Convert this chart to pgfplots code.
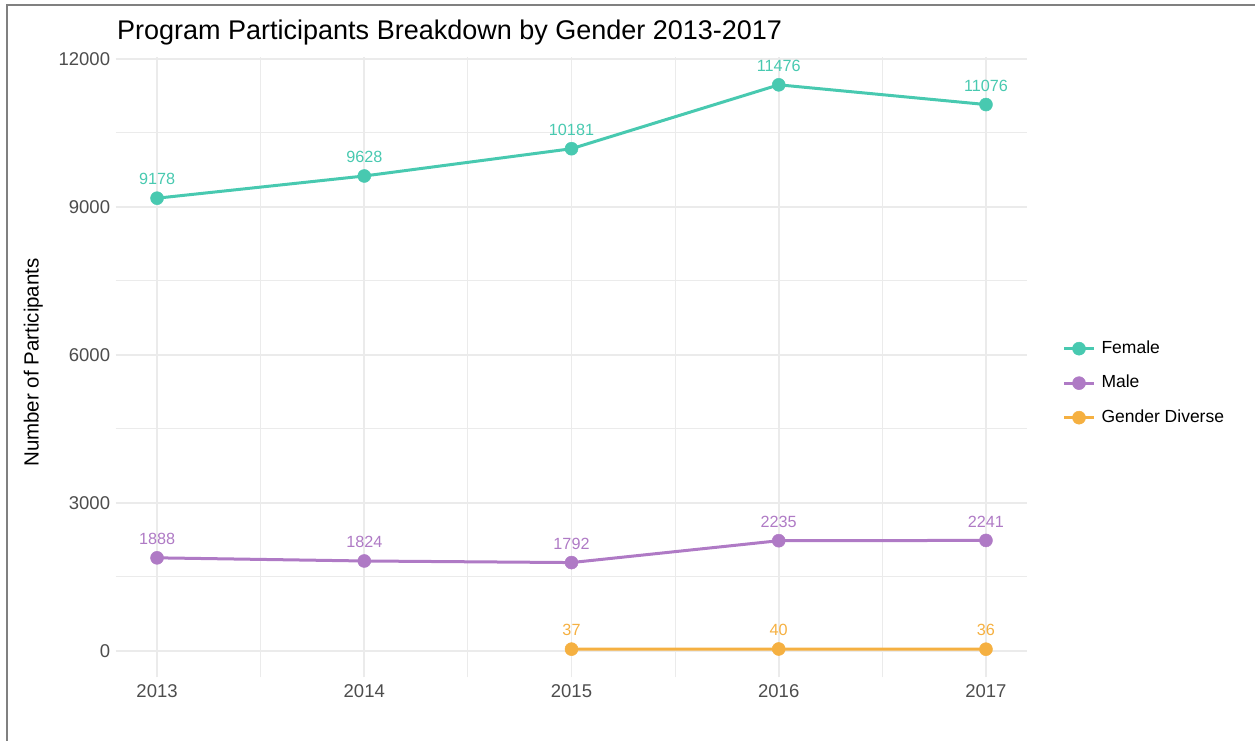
\documentclass[border=0pt]{standalone}
\usepackage{pgfplots}
\pgfplotsset{compat=1.18}
\usepackage{fontspec}
\setmainfont{Liberation Sans}
\definecolor{fem}{HTML}{48C9B0}
\definecolor{mal}{HTML}{AF7AC5}
\definecolor{gdv}{HTML}{F5B041}
\definecolor{gridc}{HTML}{EBEBEB}
\definecolor{tickc}{HTML}{4D4D4D}
\begin{document}
\begin{tikzpicture}[x=1pt,y=1pt]
\begin{axis}[
  at={(115.6pt,-677.4pt)}, anchor=south west,
  width=911.8pt, height=620.8pt, scale only axis,
  xmin=2012.8, xmax=2017.2, ymin=-536, ymax=12048,
  axis line style={draw=none},
  tick style={draw=none},
  scaled ticks=false,
  xtick={2013,2014,2015,2016,2017},
  minor xtick={2013.5,2014.5,2015.5,2016.5},
  ytick={0,3000,6000,9000,12000},
  minor ytick={1500,4500,7500,10500},
  xticklabel style={/pgf/number format/1000 sep={}},
  yticklabel style={/pgf/number format/1000 sep={}},
  /pgf/number format/assume math mode=true,
  x tick label style={font=\fontsize{18.5}{22}\selectfont, text=tickc, yshift=-4pt},
  y tick label style={font=\fontsize{18.5}{22}\selectfont, text=tickc, xshift=-2pt},
  grid=both,
  major grid style={gridc, line width=1.6pt},
  minor grid style={gridc, line width=1pt},
  mark size=6.5pt,
  nodes near coords,
  every node near coord/.append style={font=\fontsize{16.2}{19}\selectfont, anchor=base, yshift=13.3pt, /pgf/number format/1000 sep={}},
  legend style={at={(1.035,0.474)}, anchor=west, draw=none, fill=none,
    font=\fontsize{17.5}{21}\selectfont,
    nodes={inner sep=1pt, text height=13pt, text depth=3.5pt},
    row sep=16pt, column sep=5pt},
  legend cell align=left,
  legend image code/.code={\draw[mark repeat=2,mark phase=2,#1] plot coordinates {(0pt,0pt) (15pt,0pt) (30pt,0pt)};},
]
\addplot[color=fem, line width=3pt, mark=*, mark options={fill=fem, line width=0.5pt}, every node near coord/.append style={text=fem}] coordinates {(2013,9178) (2014,9628) (2015,10181) (2016,11476) (2017,11076)};
\addlegendentry{Female}
\addplot[color=mal, line width=3pt, mark=*, mark options={fill=mal, line width=0.5pt}, every node near coord/.append style={text=mal}] coordinates {(2013,1888) (2014,1824) (2015,1792) (2016,2235) (2017,2241)};
\addlegendentry{Male}
\addplot[color=gdv, line width=3pt, mark=*, mark options={fill=gdv, line width=0.5pt}, every node near coord/.append style={text=gdv}] coordinates {(2015,37) (2016,40) (2017,36)};
\addlegendentry{Gender Diverse}
\end{axis}
\node[anchor=base west, font=\fontsize{27}{32}\selectfont, inner sep=0pt] at (117,-39) {Program Participants Breakdown by Gender 2013-2017};
\node[rotate=90, anchor=base, font=\fontsize{20.5}{24}\selectfont, inner sep=0pt] at (38.5,-362.5) {Number of Participants};
\draw[color=black!50, line width=2pt] (7,-745) -- (7,-5) -- (1260,-5);
\pgfresetboundingbox
\path[use as bounding box] (0,0) rectangle (1255,-740);
\end{tikzpicture}
\end{document}
